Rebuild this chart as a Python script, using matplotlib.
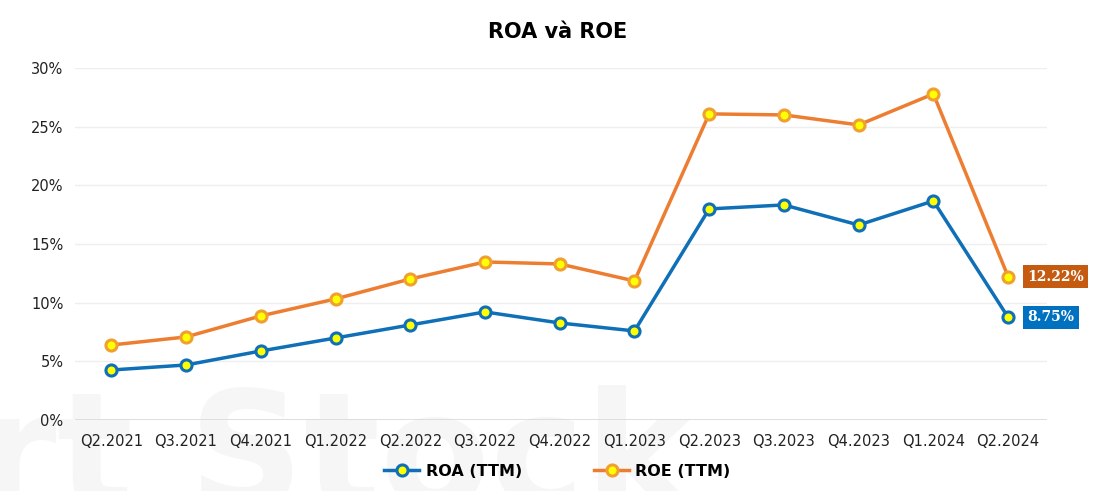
import matplotlib
matplotlib.use("Agg")
import matplotlib.pyplot as plt
from matplotlib.ticker import FuncFormatter

quarters = ["Q2.2021", "Q3.2021", "Q4.2021", "Q1.2022", "Q2.2022", "Q3.2022", "Q4.2022",
            "Q1.2023", "Q2.2023", "Q3.2023", "Q4.2023", "Q1.2024", "Q2.2024"]
roa = [4.26, 4.69, 5.88, 6.99, 8.10, 9.21, 8.27, 7.59, 17.99, 18.33, 16.62, 18.67, 8.75]
roe = [6.39, 7.08, 8.87, 10.32, 12.02, 13.47, 13.30, 11.85, 26.09, 26.00, 25.15, 27.79, 12.22]
yticks = [0, 5, 10, 15, 20, 25, 30]

plt.rcParams['font.family'] = ['DejaVu Sans']

fig = plt.figure(figsize=(11.15, 4.91), dpi=100)
ax = fig.add_axes([0.067, 0.1446, 0.872, 0.7169])

x = list(range(len(quarters)))
c_roa = "#0F6FB7"
c_roe = "#ED7D31"

# faint background watermark
ax.text(0.30, -0.10, "rt Stock", transform=fig.transFigure, fontsize=115, fontweight='bold',
        color='#f6f6f6', ha='center', va='bottom', zorder=-5, clip_on=False)

ax.plot(x, roa, color=c_roa, lw=2.5, marker='o', ms=8, mfc='#FFFF00', mec=c_roa, mew=2.2,
        label="ROA (TTM)", zorder=3)
ax.plot(x, roe, color=c_roe, lw=2.5, marker='o', ms=8, mfc='#FFFF00', mec='#F0A030', mew=2.2,
        label="ROE (TTM)", zorder=3)

ax.set_xlim(-0.49, 12.52)
ax.set_ylim(0, 30)
ax.set_yticks(yticks)
ax.yaxis.set_major_formatter(FuncFormatter(lambda v, p: f"{int(v)}%"))
ax.set_xticks(x)
ax.set_xticklabels(quarters)
ax.tick_params(axis='both', length=0, labelsize=10.5, colors='#222222')
ax.tick_params(axis='x', pad=10)
ax.tick_params(axis='y', pad=8)
ax.grid(axis='y', color='#eeeeee', lw=1, zorder=-1)
ax.set_axisbelow(True)
ax.axhline(0, color='#d9d9d9', lw=1.2, zorder=1)
for s in ax.spines.values():
    s.set_visible(False)
ax.set_facecolor('none')

ax.annotate(f"{roe[-1]:.2f}%", (x[-1], roe[-1]), xytext=(14, 0), textcoords='offset points',
            ha='left', va='center', fontsize=10, fontweight='bold', color='white',
            family='DejaVu Serif',
            bbox=dict(boxstyle='square,pad=0.3', fc='#C55A11', ec='none'))
ax.annotate(f"{roa[-1]:.2f}%", (x[-1], roa[-1]), xytext=(14, 0), textcoords='offset points',
            ha='left', va='center', fontsize=10, fontweight='bold', color='white',
            family='DejaVu Serif',
            bbox=dict(boxstyle='square,pad=0.3', fc='#0070C0', ec='none'))

fig.suptitle("ROA và ROE", y=0.955, fontsize=15, fontweight='bold')

leg = fig.legend(loc='lower center', bbox_to_anchor=(0.5, -0.005), ncol=2, frameon=False,
                 prop={'weight': 'bold', 'size': 11.5}, columnspacing=4.5, handlelength=2.2,
                 handletextpad=0.4)

fig.savefig("out.png", dpi=100)
